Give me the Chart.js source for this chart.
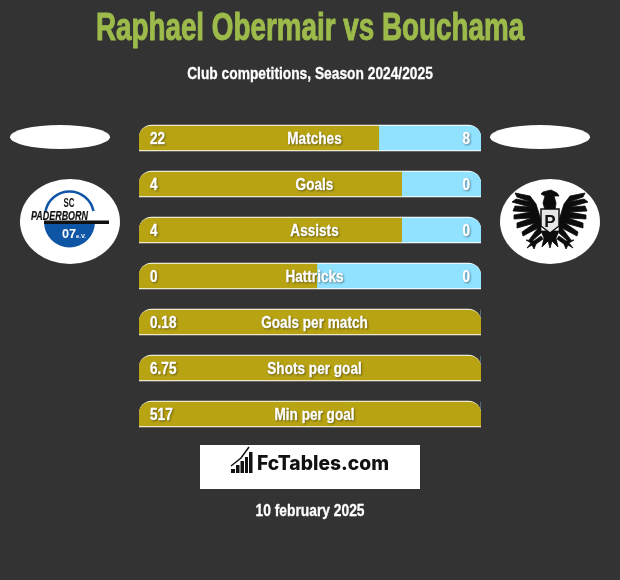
<!DOCTYPE html>
<html><head><meta charset="utf-8">
<style>
html,body{margin:0;padding:0;background:#333;width:620px;height:580px;overflow:hidden}
#wrap{position:relative;width:620px;height:580px}
canvas{position:absolute;left:0;top:0}
.t{position:absolute;left:0;width:620px;text-align:center;white-space:nowrap;font-family:"Liberation Sans",sans-serif;font-weight:700;color:#fff;transform-origin:310px 0}
svg{position:absolute;left:0;top:0}
</style></head><body>
<div id="wrap">
<canvas id="c" width="620" height="580"></canvas>
<svg width="620" height="580" viewBox="0 0 620 580">
 <ellipse cx="60" cy="137" rx="50" ry="12" fill="#fff"/>
 <ellipse cx="540" cy="137" rx="50" ry="12" fill="#fff"/>
 <ellipse cx="70" cy="221.500" rx="50" ry="42.500" fill="#fff"/>
 <ellipse cx="550" cy="221.500" rx="50" ry="42.500" fill="#fff"/>
 <!-- Paderborn crest -->
 <path d="M44 222 A25 25 0 0 0 95 222 Z" fill="#0f55a5"/>
 <path d="M45.500 211 A24.500 24.500 0 0 1 93.500 211" fill="none" stroke="#0f55a5" stroke-width="2.500"/>
 <rect x="44" y="220.500" width="65" height="3.500" fill="#111"/>
 <text x="69" y="207" text-anchor="middle" font-family="Liberation Sans" font-weight="700" font-size="12" textLength="11" lengthAdjust="spacingAndGlyphs" fill="#111">SC</text>
 <text x="31" y="219.500" font-family="Liberation Sans" font-weight="700" font-style="italic" font-size="12.500" textLength="57" lengthAdjust="spacingAndGlyphs" fill="#111" stroke="#111" stroke-width=".2">PADERBORN</text>
 <text x="62" y="238" font-family="Liberation Sans" font-weight="700" font-size="13" textLength="24" lengthAdjust="spacingAndGlyphs" fill="#fff">07<tspan font-size="6">e.V.</tspan></text>
 <!-- Münster eagle -->
 <g fill="#0c0c0c" stroke="#0c0c0c" stroke-width="0.800">
  <path d="M543 192 l8 -2 l6 3 l2 3 l-5 0 l2 7 l-1 7 l-10 0 l-2 -7 l2 -7 l-4 -2 z"/>
  <path d="M541 220 L536 204 L530 196 L515 193 L517 197 L531 202 L516 199 L512 202 L530 207 L515 206 L513 211 L531 212 L514 215 L514 219 L532 218 L517 223 L517 228 L535 223 L522 232 L523 236 L538 228 L529 240 L531 242 L541 233 Z"/>
  <path d="M559 220 L564 204 L570 196 L585 193 L583 197 L569 202 L584 199 L588 202 L570 207 L585 206 L587 211 L569 212 L586 215 L586 219 L568 218 L583 223 L583 228 L565 223 L578 232 L577 236 L562 228 L571 240 L569 242 L559 233 Z"/>
  <path d="M541 231 L559 231 L556 238 L558 247 L552 241 L550 248 L548 241 L542 247 L544 238 Z"/>
  <path d="M541 236 L534 241 L526 240 L531 243 L527 248 L532 245 L534 249 L536 244 L543 239 Z"/>
  <path d="M559 236 L566 241 L574 240 L569 243 L573 248 L568 245 L566 249 L564 244 L557 239 Z"/>
 </g>
 <path d="M541 209 H559 V226 L550 233 L541 226 Z" fill="#e6e6e6" stroke="#111" stroke-width="1.500"/>
 <text x="550" y="227" text-anchor="middle" font-family="Liberation Sans" font-weight="700" font-size="17" fill="#111">P</text>
 <!-- FcTables box -->
 <rect x="200" y="445" width="220" height="44" fill="#fff"/>
 <g fill="#111">
  <rect x="231" y="469" width="4" height="4"/><rect x="236" y="465" width="3.500" height="8"/><rect x="240.500" y="461" width="3.500" height="12"/><rect x="245" y="457" width="3" height="16"/><rect x="249" y="452" width="3.500" height="21"/>
 </g>
 <path d="M231 466 L241 458 L249 447" fill="none" stroke="#111" stroke-width="1.500"/>
 <text x="257" y="470" font-family="Inter,Noto Sans" font-weight="800" font-size="19.500" textLength="132" lengthAdjust="spacingAndGlyphs" fill="#111">FcTables.com</text>
</svg>
<div class="t" id="title" style="top:3px;font-size:38px;line-height:48px;color:#9dbb4b;-webkit-text-stroke:1px #9dbb4b;transform:scaleX(.732)">Raphael Obermair vs Bouchama</div>
<div class="t" id="sub" style="top:64px;font-size:17px;line-height:20px;-webkit-text-stroke:.3px #fff;transform:scaleX(.81)">Club competitions, Season 2024/2025</div>
<div class="t" id="date" style="top:501px;font-size:17px;line-height:20px;-webkit-text-stroke:.3px #fff;transform:scaleX(.813)">10 february 2025</div>
</div>
<script src="https://cdn.jsdelivr.net/npm/chart.js@4/dist/chart.umd.min.js"></script>
<script>
const categories = ["Matches","Goals","Assists","Hattricks","Goals per match","Shots per goal","Min per goal"];
const leftLabels = ["22","4","4","0","0.18","6.75","517"];
const rightLabels = ["8","0","0","0","","",""];
const leftShare = [70.1,76.8,76.8,52,100,100,100];
const rightShare = [29.9,23.2,23.2,48,0,0,0];
const outlineShare = [100,100,100,100,100,100,100];

const labelPlugin = {
  id:'barLabels',
  afterDatasetsDraw(chart){
    const {ctx,chartArea:a,scales:{y}} = chart;
    const sx=0.8;
    const put=(s,x,py,align)=>{
      ctx.save();
      ctx.translate(x,py);ctx.scale(sx,1);
      ctx.textAlign=align;
      ctx.strokeText(s,0,0);
      ctx.fillText(s,0,0);
      ctx.restore();
    };
    ctx.save();
    ctx.font='700 17px "Liberation Sans",sans-serif';
    ctx.textBaseline='middle';
    ctx.fillStyle='#fff';ctx.strokeStyle='#fff';ctx.lineWidth=.4;
    ctx.shadowColor='rgba(0,0,0,.35)';
    ctx.shadowOffsetX=1;ctx.shadowOffsetY=1;ctx.shadowBlur=2;
    categories.forEach((c,i)=>{
      const py=y.getPixelForValue(i)+1;
      put(leftLabels[i],a.left+11,py,'left');
      put(c,(a.left+a.right)/2+4.5,py,'center');
      put(rightLabels[i],a.right-11,py,'right');
    });
    ctx.restore();
  }
};
new Chart(document.getElementById('c'),{
  type:'bar',
  data:{labels:categories,datasets:[
    {label:'outline',data:outlineShare,stack:'o',grouped:false,order:3,backgroundColor:'#ffffff',barThickness:26,
     borderRadius:{topLeft:13,topRight:13,bottomLeft:0,bottomRight:0},borderSkipped:false},
    {label:'Raphael Obermair',data:leftShare,stack:'f',grouped:false,order:1,backgroundColor:'#b8a313',barThickness:24,
     borderRadius:(ctx)=>({topLeft:12,topRight:rightShare[ctx.dataIndex]===0?12:0,bottomLeft:0,bottomRight:0}),borderSkipped:false},
    {label:'Bouchama',data:rightShare,stack:'f',grouped:false,order:2,backgroundColor:'#90e2ff',barThickness:24,
     borderRadius:{topLeft:0,topRight:12,bottomLeft:0,bottomRight:0},borderSkipped:false}
  ]},
  options:{
    indexAxis:'y',responsive:false,animation:false,devicePixelRatio:1,
    layout:{padding:{left:139,right:139,top:115,bottom:143}},
    plugins:{legend:{display:false},tooltip:{enabled:false},title:{display:false}},
    scales:{
      x:{stacked:true,min:0,max:100,display:false},
      y:{stacked:true,display:false}
    }
  },
  plugins:[labelPlugin]
});
</script>
</body></html>
